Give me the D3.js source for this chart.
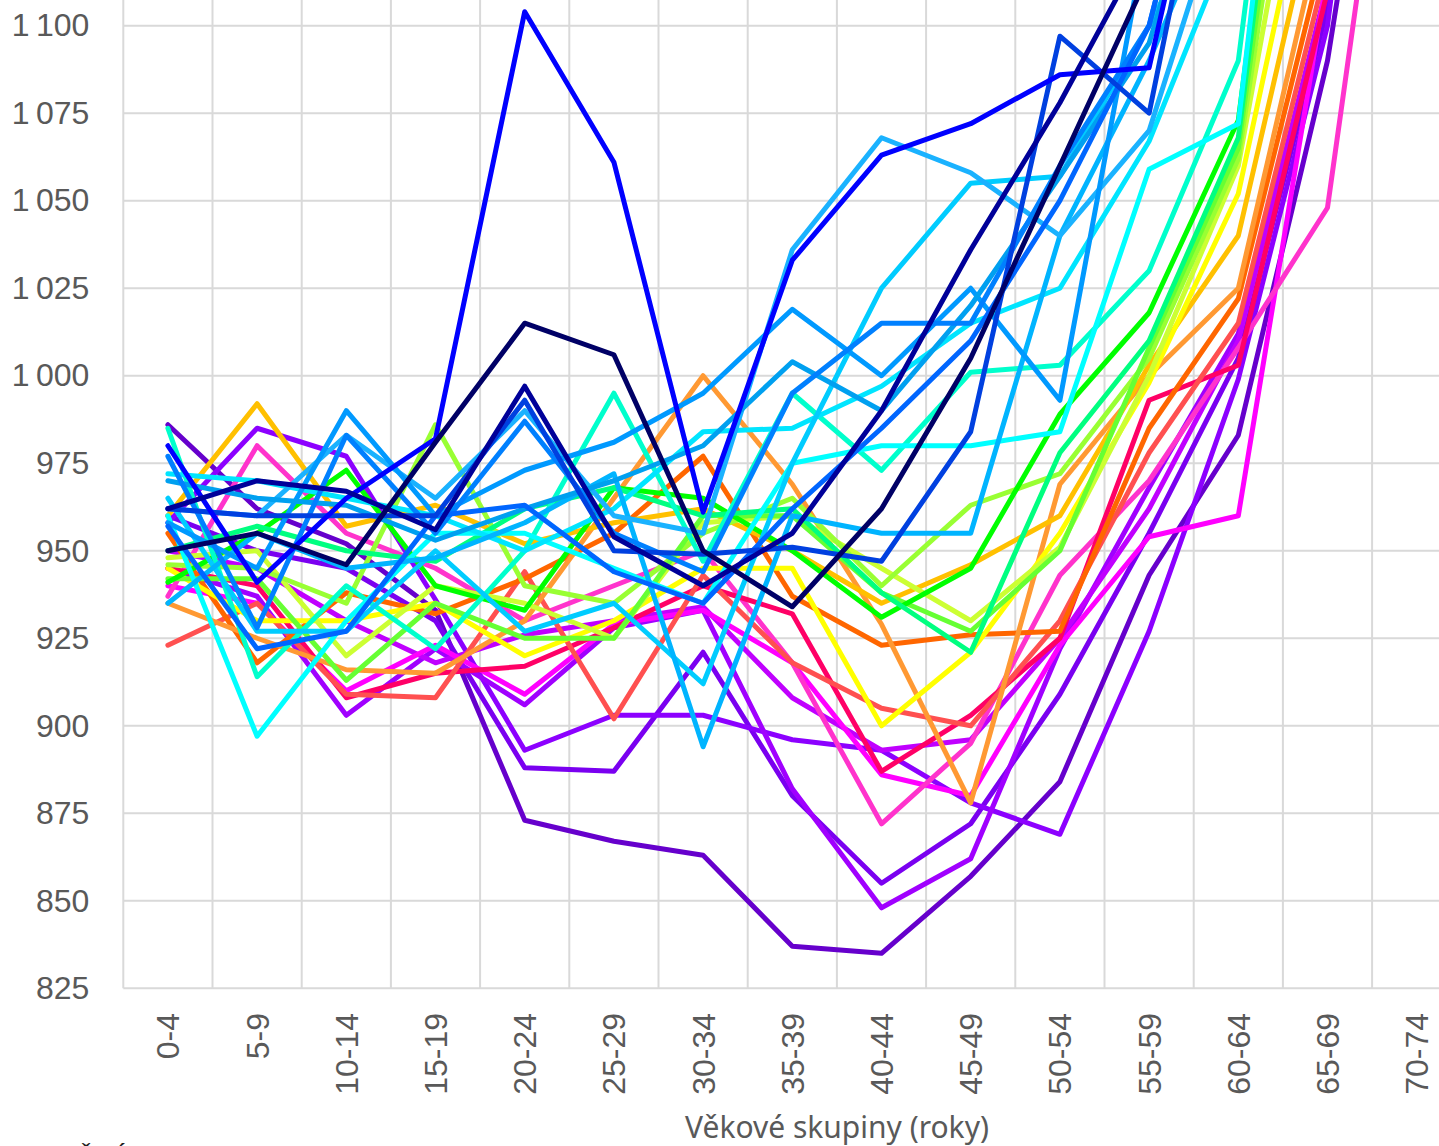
<!DOCTYPE html>
<html>
<head>
<meta charset="utf-8">
<script src="https://cdn.jsdelivr.net/npm/d3@7"></script>
<style>
  html, body { margin: 0; padding: 0; background: #fff; overflow: hidden; }
  svg { display: block; }
  .tick text { font-family: "Liberation Sans", Arial, sans-serif; }
</style>
</head>
<body>
<svg id="chart" width="1439" height="1146"></svg>
<script>
let width = 1439;
let height = 1146;

// age groups on the x axis
const ageGroups = ["0-4", "5-9", "10-14", "15-19", "20-24", "25-29", "30-34", "35-39",
  "40-44", "45-49", "50-54", "55-59", "60-64", "65-69", "70-74"];

const yTicks = [825, 850, 875, 900, 925, 950, 975, 1000, 1025, 1050, 1075, 1100, 1125];

// series colours, oldest (violet) to newest (navy)
const seriesColors = [
  "#6600cc", "#7a00f0", "#8c00ff", "#a000ff", "#c000ff", "#ff00ff", "#ff33cc", "#ff0066",
  "#ff5050", "#ff6600", "#ff9933", "#ffc000", "#ffff00", "#ccff33", "#99ff33", "#66ff33",
  "#00ff00", "#00ff80", "#00ffcc", "#00ffff", "#00e5ff", "#00ccff", "#00b4ff", "#1ab2ff",
  "#0099ff", "#00a0f0", "#0080ff", "#0066ff", "#0040e0", "#0000ff", "#000099", "#000066"
];

// values, one array per series (same order as colours)
const seriesValues = [
  [986, 962, 952, 933, 873, 867, 863, 837, 835, 857, 884, 943, 983, 1090, 1250],
  [960, 950, 945, 930, 888, 887, 921, 880, 855, 872, 909, 955, 1005, 1105, 1300],
  [958, 985, 977, 936, 893, 903, 903, 896, 893, 878, 869, 927, 999, 1100, 1300],
  [945, 937, 903, 922, 906, 928, 933, 882, 848, 862, 922, 968, 1012, 1110, 1300],
  [950, 945, 930, 918, 926, 930, 934, 908, 893, 896, 925, 962, 1010, 1112, 1300],
  [940, 935, 910, 923, 909, 929, 933, 918, 886, 880, 923, 954, 960, 1115, 1300],
  [937, 980, 955, 945, 930, 940, 950, 918, 872, 895, 943, 970, 1008, 1048, 1230],
  [945, 940, 908, 915, 917, 928, 940, 932, 887, 903, 925, 993, 1003, 1110, 1300],
  [923, 935, 909, 908, 944, 902, 943, 918, 905, 900, 930, 978, 1015, 1118, 1300],
  [955, 918, 938, 932, 942, 955, 977, 937, 923, 926, 927, 985, 1022, 1125, 1300],
  [935, 925, 916, 915, 930, 965, 1000, 969, 929, 878, 969, 1000, 1025, 1135, 1300],
  [960, 992, 957, 963, 952, 958, 962, 950, 935, 946, 960, 1003, 1040, 1150, 1300],
  [945, 930, 930, 935, 920, 930, 945, 945, 900, 921, 955, 998, 1052, 1170, 1300],
  [948, 950, 920, 940, 935, 925, 958, 960, 945, 930, 951, 1000, 1060, 1200, 1350],
  [946, 945, 935, 986, 940, 935, 955, 965, 940, 963, 972, 1005, 1062, 1230, 1350],
  [942, 942, 913, 935, 925, 925, 960, 960, 938, 927, 950, 1008, 1065, 1250, 1350],
  [941, 955, 973, 940, 933, 968, 965, 950, 931, 945, 989, 1018, 1073, 1270, 1400],
  [950, 957, 950, 947, 962, 968, 960, 962, 938, 921, 978, 1010, 1068, 1270, 1400],
  [985, 914, 940, 922, 950, 995, 947, 995, 973, 1001, 1003, 1030, 1090, 1290, 1400],
  [960, 897, 930, 955, 955, 945, 935, 975, 980, 980, 984, 1059, 1072, 1290, 1400],
  [972, 970, 965, 960, 950, 962, 984, 985, 997, 1015, 1025, 1067, 1130, 1300, 1400],
  [965, 927, 927, 950, 927, 935, 912, 975, 1025, 1055, 1057, 1100, 1150, 1300, 1400],
  [935, 955, 945, 948, 958, 972, 894, 960, 955, 955, 1040, 1090, 1150, 1300, 1400],
  [962, 960, 983, 965, 990, 960, 955, 1036, 1068, 1058, 1040, 1070, 1150, 1300, 1400],
  [958, 945, 990, 960, 973, 981, 995, 1019, 1000, 1025, 993, 1130, 1200, 1300, 1400],
  [970, 965, 963, 953, 962, 970, 980, 1004, 990, 1020, 1057, 1095, 1180, 1300, 1400],
  [977, 928, 983, 955, 987, 955, 944, 995, 1015, 1015, 1060, 1100, 1200, 1300, 1400],
  [957, 922, 927, 960, 963, 944, 935, 962, 985, 1010, 1050, 1100, 1200, 1300, 1400],
  [962, 960, 960, 960, 993, 950, 949, 951, 947, 984, 1097, 1075, 1200, 1300, 1400],
  [980, 941, 965, 982, 1104, 1061, 961, 1033, 1063, 1072, 1086, 1088, 1200, 1300, 1400],
  [962, 970, 967, 956, 997, 954, 940, 955, 990, 1036, 1078, 1125, 1200, 1300, 1400],
  [950, 955, 946, 981, 1015, 1006, 950, 934, 962, 1005, 1060, 1115, 1200, 1300, 1400]
];

const xTitle = "Věkové skupiny (roky)";
const sourceNote = "ČSÚ";

function main() {
	const svg = d3.select("#chart");
	const scales = make_scales();
	draw_grid(svg, scales);
	draw_lines(svg, scales);
	draw_axes(svg, scales);
}

function make_scales() {
	return {
		x: d3.scaleBand()
			.domain(ageGroups)
			.range([123.3, 123.3 + 89.2 * ageGroups.length])
			.padding(0),
		y: d3.scaleLinear()
			.domain([825, 1100])
			.range([988.3, 25.7])
	};
}

function draw_grid(svg, scales) {
	const g = svg.append("g").attr("class", "grid");
	g.selectAll("line.h")
		.data(yTicks).enter()
		.append("line")
		.attr("class", "h")
		.attr("x1", scales.x.range()[0])
		.attr("x2", scales.x.range()[1])
		.attr("y1", d => scales.y(d))
		.attr("y2", d => scales.y(d))
		.attr("stroke", "#d9d9d9")
		.attr("stroke-width", 2);

	// vertical lines sit between the categories
	const bounds = ageGroups.map(d => scales.x(d)).concat([scales.x.range()[1]]);
	g.selectAll("line.v")
		.data(bounds).enter()
		.append("line")
		.attr("class", "v")
		.attr("x1", d => d)
		.attr("x2", d => d)
		.attr("y1", scales.y(1125))
		.attr("y2", scales.y(825))
		.attr("stroke", "#d9d9d9")
		.attr("stroke-width", 2);
}

function draw_lines(svg, scales) {
	const half = scales.x.bandwidth() / 2;
	const path_generator = d3.line()
		.x((d, i) => scales.x(ageGroups[i]) + half)
		.y(d => scales.y(d));

	svg.append("g")
		.attr("class", "series")
		.selectAll("path")
		.data(seriesValues).enter()
		.append("path")
		.attr("d", path_generator)
		.attr("fill", "none")
		.attr("stroke", (d, i) => seriesColors[i])
		.attr("stroke-width", 5)
		.attr("stroke-linejoin", "round")
		.attr("stroke-linecap", "round");
}

function draw_axes(svg, scales) {
	const yAxis = d3.axisLeft(scales.y)
		.tickValues(yTicks.filter(d => d <= 1100))
		.tickSize(0)
		.tickPadding(34)
		.tickFormat(d => d3.format(",")(d).replace(",", "\u2009"));

	const gy = svg.append("g")
		.attr("transform", "translate(" + scales.x.range()[0] + ",0)")
		.call(yAxis);
	gy.select(".domain").remove();
	gy.selectAll("text")
		.attr("font-size", 32)
		.attr("fill", "#595959")
		.attr("dy", "0.32em");

	const half = scales.x.bandwidth() / 2;
	svg.append("g")
		.selectAll("text")
		.data(ageGroups).enter()
		.append("text")
		.attr("transform", d => "translate(" + (scales.x(d) + half + 11.5) + ",1013) rotate(-90)")
		.attr("text-anchor", "end")
		.attr("font-family", "Liberation Sans, Arial, sans-serif")
		.attr("font-size", 32)
		.attr("fill", "#595959")
		.text(d => d);

	svg.append("text")
		.attr("x", 837)
		.attr("y", 1138)
		.attr("text-anchor", "middle")
		.attr("font-family", "Noto Sans, sans-serif")
		.attr("font-size", 30)
		.attr("fill", "#595959")
		.text(xTitle);

	// only the accents of this note show at the bottom edge, as in the picture
	svg.append("text")
		.attr("x", 76)
		.attr("y", 1166)
		.attr("font-family", "Liberation Sans, Arial, sans-serif")
		.attr("font-size", 26)
		.attr("fill", "#222")
		.text(sourceNote);
}

main();
</script>
</body>
</html>
